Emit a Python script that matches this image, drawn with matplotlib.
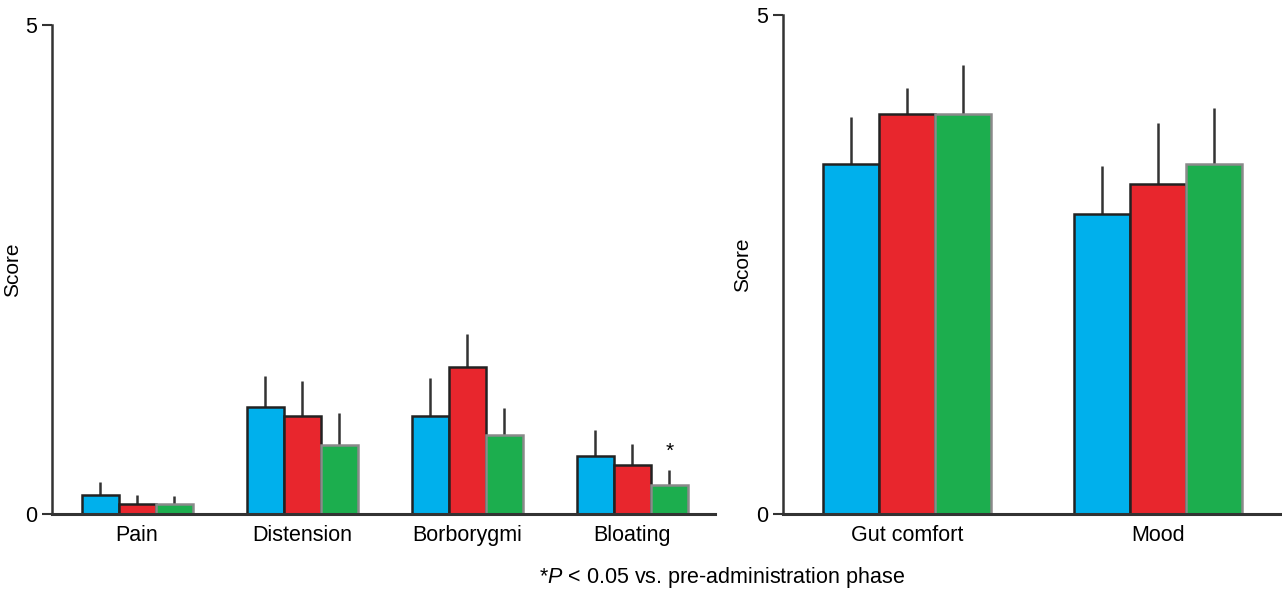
import numpy as np
import matplotlib.pyplot as plt

plt.rcParams['font.family'] = ['Liberation Sans', 'DejaVu Sans']
plt.rcParams['mathtext.fontset'] = 'custom'
plt.rcParams['mathtext.rm'] = 'Liberation Sans'
plt.rcParams['mathtext.it'] = 'Liberation Sans:italic'

# symptom scores (left) and wellbeing scores (right), three phases each
symptoms = ['Pain', 'Distension', 'Borborygmi', 'Bloating']
sym_pre = [0.20, 1.09, 1.00, 0.59]
sym_pre_err = [0.13, 0.32, 0.39, 0.27]
sym_mid = [0.10, 1.00, 1.50, 0.50]
sym_mid_err = [0.10, 0.36, 0.34, 0.22]
sym_post = [0.10, 0.71, 0.81, 0.30]
sym_post_err = [0.09, 0.32, 0.27, 0.15]

wellbeing = ['Gut comfort', 'Mood']
wb_pre = [3.51, 3.01]
wb_pre_err = [0.47, 0.48]
wb_mid = [4.01, 3.31]
wb_mid_err = [0.26, 0.61]
wb_post = [4.01, 3.51]
wb_post_err = [0.49, 0.56]

colors = ['#00b0ec', '#e8262d', '#1cae4e']
edges = ['#222222', '#222222', '#8a8a8a']

fig = plt.figure(figsize=(12.82, 5.91), dpi=100)
ax1 = fig.add_axes([0.0406, 0.130, 0.517, 0.828])
ax2 = fig.add_axes([0.6108, 0.130, 0.388, 0.845])


def draw_panel(ax, labels, series, errs, width):
    x = np.arange(len(labels))
    for k, (vals, err) in enumerate(zip(series, errs)):
        pos = x + (k - 1) * width
        ax.bar(pos, vals, width, color=colors[k], edgecolor=edges[k],
               linewidth=1.8, zorder=2)
        ax.errorbar(pos, vals, yerr=[np.zeros(len(vals)), err], fmt='none',
                    ecolor='#333333', elinewidth=1.8, capsize=0, zorder=1)
    ax.set_xticks(x)
    ax.set_xticklabels(labels, fontsize=15.5)
    ax.set_ylim(0, 5)
    ax.set_yticks([0, 5])
    ax.tick_params(axis='y', labelsize=15.5, length=7, width=1.5, color='#333333')
    ax.tick_params(axis='x', length=0, pad=8)
    for s in ['top', 'right']:
        ax.spines[s].set_visible(False)
    ax.spines['left'].set_linewidth(1.8)
    ax.spines['bottom'].set_linewidth(2.2)
    ax.spines['left'].set_color('#333333')
    ax.spines['bottom'].set_color('#333333')
    ax.set_ylabel('Score', fontsize=15)
    return x


x1 = draw_panel(ax1, symptoms, [sym_pre, sym_mid, sym_post],
                [sym_pre_err, sym_mid_err, sym_post_err], 0.224)
ax1.set_xlim(-0.515, 3.5)
ax1.yaxis.set_label_coords(-0.045, 0.5)
ax1.text(x1[3] + 0.224, sym_post[3] + sym_post_err[3] + 0.1, '*',
         ha='center', va='bottom', fontsize=15)

draw_panel(ax2, wellbeing, [wb_pre, wb_mid, wb_post],
           [wb_pre_err, wb_mid_err, wb_post_err], 0.224)
ax2.set_xlim(-0.496, 1.49)
ax2.yaxis.set_label_coords(-0.062, 0.5)

fig.text(0.563, 0.0135, r'*$\it{P}$ < 0.05 vs. pre-administration phase',
         ha='center', va='baseline', fontsize=15.5)

fig.savefig('out.png', dpi=100)
